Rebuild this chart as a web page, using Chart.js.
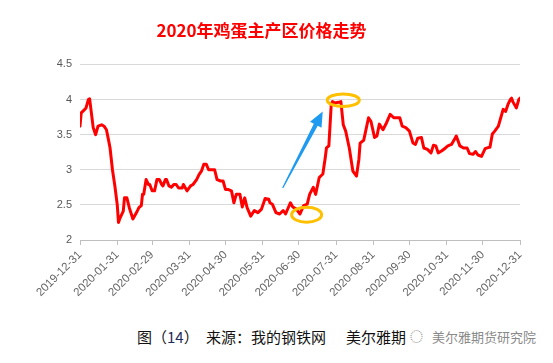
<!DOCTYPE html>
<html><head><meta charset="utf-8">
<script src="https://cdn.jsdelivr.net/npm/chart.js@4.4.1/dist/chart.umd.min.js"></script>
<style>
html,body{margin:0;padding:0;background:#fff;width:553px;height:363px;overflow:hidden;position:relative;font-family:"Noto Sans CJK SC",sans-serif;}
#wrap{position:absolute;left:0;top:0;width:553px;height:310px;}
.cap{position:absolute;white-space:nowrap;font-size:15px;line-height:18px;color:#111;font-family:"Noto Sans CJK SC",sans-serif;}
.wm{position:absolute;white-space:nowrap;font-size:13px;line-height:16px;color:#8a8a8a;font-family:"Noto Sans CJK SC",sans-serif;}
</style></head><body>
<div id="wrap"><canvas id="c" width="553" height="310"></canvas></div>
<div class="cap" style="left:137px;top:328px;">图（<span style="color:#1f2d5a">14</span>）</div>
<div class="cap" style="left:206px;top:328px;">来源：我的钢铁网</div>
<div class="cap" style="left:346px;top:328px;">美尔雅期</div>
<div class="wm" style="left:410px;top:328px;">◌</div>
<div class="wm" style="left:432px;top:329px;">美尔雅期货研究院</div>
<script>
const titleText = '2020年鸡蛋主产区价格走势';
// day offsets from 2019-12-31
const tickDays = [0,31,60,91,121,152,182,213,244,274,305,335,366];
const tickLabels = ['2019-12-31','2020-01-31','2020-02-29','2020-03-31','2020-04-30','2020-05-31','2020-06-30','2020-07-31','2020-08-31','2020-09-30','2020-10-31','2020-11-30','2020-12-31'];
const days = [0,1,4,5,7,8,11,13,15,18,20,22,24,25,27,29,31,32,33,36,37,39,41,44,47,49,51,52,53,55,57,58,60,62,64,66,68,69,71,72,74,76,78,80,82,85,86,89,92,94,97,99,101,103,105,107,110,112,114,117,119,121,123,126,128,130,133,135,137,139,142,145,148,151,154,157,158,160,163,166,169,171,175,177,180,183,186,189,191,194,196,199,202,204,205,207,209,210,212,215,217,219,221,224,227,230,232,233,236,237,240,242,245,247,249,252,255,256,258,261,263,266,268,271,274,277,279,281,284,286,289,292,294,296,298,301,304,306,309,312,313,316,319,322,324,327,329,331,334,337,340,341,343,345,348,350,352,354,356,358,359,360,363,365,366];
const prices = [3.62,3.81,3.86,3.88,4.00,4.01,3.60,3.50,3.62,3.64,3.62,3.57,3.40,3.31,3.00,2.77,2.50,2.25,2.30,2.41,2.60,2.60,2.46,2.30,2.39,2.46,2.49,2.65,2.65,2.86,2.79,2.79,2.70,2.70,2.86,2.86,2.79,2.77,2.86,2.86,2.77,2.75,2.79,2.79,2.74,2.74,2.79,2.70,2.77,2.79,2.86,2.93,2.98,3.08,3.08,3.00,3.00,3.00,2.86,2.84,2.84,2.72,2.72,2.70,2.53,2.65,2.65,2.47,2.60,2.46,2.34,2.42,2.39,2.44,2.59,2.58,2.53,2.51,2.39,2.37,2.42,2.37,2.53,2.47,2.44,2.37,2.49,2.51,2.65,2.75,2.65,2.89,2.94,3.17,3.31,3.34,3.93,3.97,3.95,3.96,3.97,3.64,3.55,3.31,2.98,2.91,3.15,3.38,3.42,3.50,3.74,3.69,3.46,3.48,3.65,3.57,3.67,3.71,3.79,3.74,3.74,3.74,3.62,3.60,3.55,3.38,3.36,3.45,3.46,3.31,3.29,3.24,3.35,3.34,3.24,3.27,3.31,3.34,3.36,3.45,3.48,3.34,3.31,3.31,3.23,3.22,3.26,3.21,3.19,3.30,3.32,3.32,3.51,3.55,3.62,3.74,3.86,3.83,3.93,4.00,4.02,3.97,3.88,4.00,4.02];

const annot = {
  id: 'annot',
  afterDatasetsDraw(chart) {
    const {ctx, scales: {x, y}} = chart;
    ctx.save();
    // blue arrow
    const T = {x: x.getPixelForValue(168.6), y: y.getPixelForValue(2.74)};
    const P = {x: x.getPixelForValue(201.9), y: y.getPixelForValue(3.83)};
    const dx = P.x - T.x, dy = P.y - T.y, L = Math.hypot(dx, dy);
    const u = {x: dx / L, y: dy / L}, n = {x: -u.y, y: u.x};
    const hl = 15, hw = 6.5, b0 = 0.6, b1 = 2.2;
    const B = {x: P.x - u.x * hl, y: P.y - u.y * hl};
    ctx.fillStyle = '#1E9BF0';
    ctx.beginPath();
    ctx.moveTo(T.x + n.x * b0, T.y + n.y * b0);
    ctx.lineTo(B.x + n.x * b1, B.y + n.y * b1);
    ctx.lineTo(B.x + n.x * hw, B.y + n.y * hw);
    ctx.lineTo(P.x, P.y);
    ctx.lineTo(B.x - n.x * hw, B.y - n.y * hw);
    ctx.lineTo(B.x - n.x * b1, B.y - n.y * b1);
    ctx.lineTo(T.x - n.x * b0, T.y - n.y * b0);
    ctx.closePath();
    ctx.fill();
    // orange ellipses
    ctx.strokeStyle = '#FFC000';
    ctx.lineWidth = 3;
    ctx.beginPath();
    ctx.ellipse(x.getPixelForValue(188.5), y.getPixelForValue(2.36), 15, 7.5, 0, 0, Math.PI * 2);
    ctx.stroke();
    ctx.beginPath();
    ctx.ellipse(x.getPixelForValue(219), y.getPixelForValue(3.99), 16, 6.3, 0, 0, Math.PI * 2);
    ctx.stroke();
    ctx.restore();
  }
};

new Chart(document.getElementById('c'), {
  type: 'line',
  data: {
    datasets: [{
      data: days.map((d, i) => ({x: d, y: prices[i]})),
      borderColor: '#FF0000',
      borderWidth: 3,
      pointRadius: 0,
      tension: 0,
      fill: false,
      borderJoinStyle: 'round',
      borderCapStyle: 'round'
    }]
  },
  options: {
    responsive: false,
    animation: false,
    layout: {padding: {left: 3, right: 33, top: 0, bottom: 0}},
    plugins: {
      legend: {display: false},
      tooltip: {enabled: false},
      title: {
        display: true,
        text: titleText,
        color: '#FF0000',
        font: {family: '"Noto Sans CJK SC", sans-serif', size: 17, weight: 'bold'},
        padding: {top: 20, bottom: 24}
      }
    },
    scales: {
      x: {
        type: 'linear', min: 0, max: 366,
        afterBuildTicks: (s) => { s.ticks = tickDays.map(v => ({value: v})); },
        afterFit: (s) => { s.height = 70; },
        ticks: {
          autoSkip: false, minRotation: 45, maxRotation: 45,
          color: '#666666', padding: 3,
          font: {family: '"Liberation Sans", sans-serif', size: 11.5},
          callback: (v) => tickLabels[tickDays.indexOf(v)]
        },
        grid: {drawOnChartArea: false, drawTicks: true, tickLength: 5, color: '#BFBFBF'},
        border: {color: '#BFBFBF'}
      },
      y: {
        min: 2, max: 4.5,
        afterFit: (s) => { s.width = 77; },
        ticks: {stepSize: 0.5, color: '#595959', padding: 8, font: {family: '"Liberation Sans", sans-serif', size: 11},
          callback: (v) => String(v)},
        grid: {color: '#D9D9D9', drawTicks: false},
        border: {display: false}
      }
    }
  },
  plugins: [annot]
});
</script>
</body></html>
